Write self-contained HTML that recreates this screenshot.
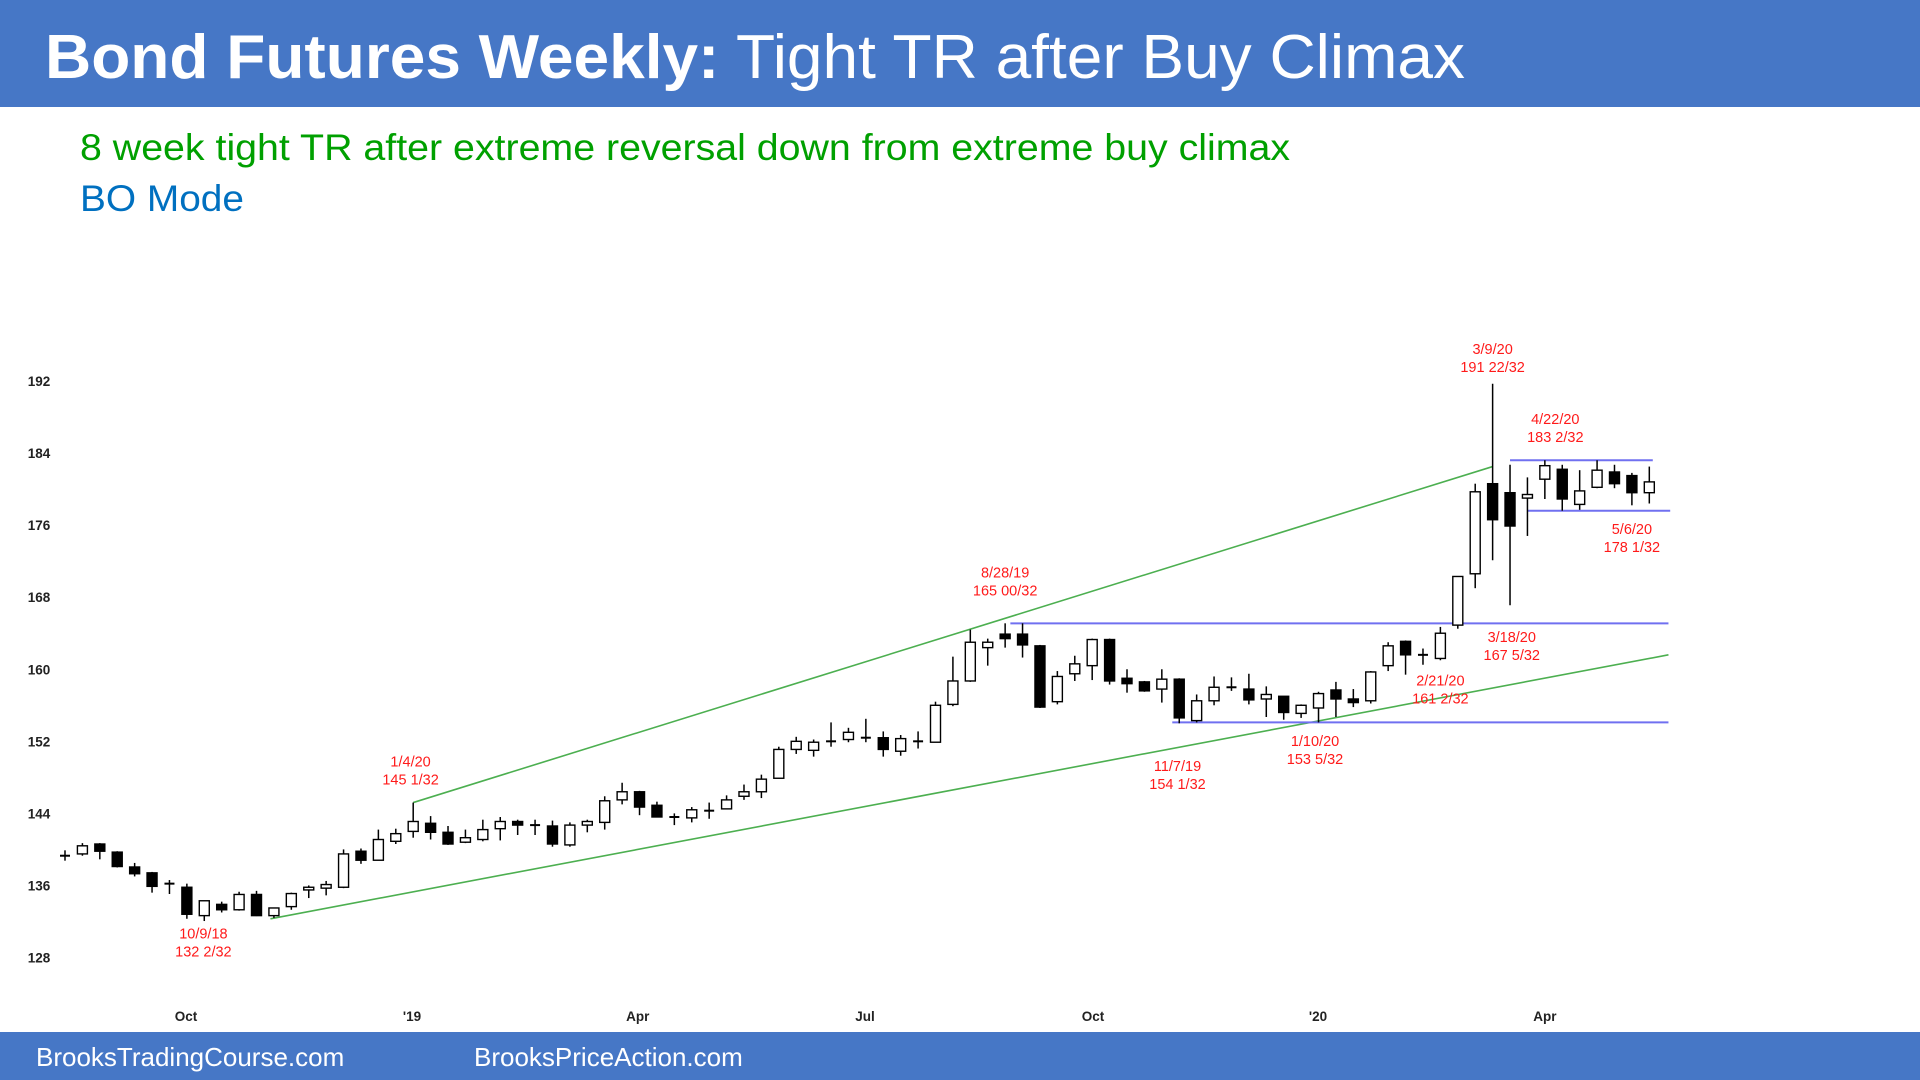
<!DOCTYPE html>
<html><head><meta charset="utf-8"><style>
html,body{margin:0;padding:0;background:#fff;}
svg{display:block;font-family:"Liberation Sans",Arial,sans-serif;}
</style></head><body>
<svg id="chart" width="1920" height="1080" viewBox="0 0 1920 1080">
<rect x="0" y="0" width="1920" height="107" fill="#4677C6"/>
<text x="45" y="78" font-size="62" fill="#fff" textLength="1420" lengthAdjust="spacingAndGlyphs"><tspan font-weight="bold">Bond Futures Weekly:</tspan> Tight TR after Buy Climax</text>
<text x="80" y="160" font-size="37" fill="#00A000" textLength="1210" lengthAdjust="spacingAndGlyphs">8 week tight TR after extreme reversal down from extreme buy climax</text>
<text x="80" y="211" font-size="37" fill="#0070C0" textLength="164" lengthAdjust="spacingAndGlyphs">BO Mode</text>
<g id="yaxis"></g><g id="xaxis"></g><g id="lines"></g><g id="candles"></g><g id="notes"></g>
<rect x="0" y="1032" width="1920" height="48" fill="#4677C6"/>
<text x="36" y="1066" font-size="26" fill="#fff">BrooksTradingCourse.com</text>
<text x="474" y="1066" font-size="26" fill="#fff">BrooksPriceAction.com</text>
</svg>
<script>
const opens  =[139.3,139.5,140.6,139.7,138.05,137.4,136.2,135.8,132.65,133.9,133.3,135.0,132.65,133.65,135.5,135.7,135.8,139.8,138.8,140.9,142.0,142.9,141.9,140.8,141.1,142.3,143.1,142.7,142.6,140.5,142.7,143.0,145.5,146.4,144.9,143.6,143.5,144.3,144.5,145.9,146.4,147.9,151.1,151.0,152.0,152.2,152.4,152.4,150.9,152.0,151.9,156.1,158.7,162.4,163.9,163.9,162.6,156.4,159.5,160.4,163.3,159.0,158.6,157.8,158.9,154.3,156.5,158.0,157.8,156.7,157.0,155.1,155.7,157.7,156.7,156.5,160.4,163.1,161.6,161.2,164.9,170.6,180.6,179.6,179.0,181.1,182.2,178.3,180.2,181.9,181.5,179.6];
const closes =[139.3,140.4,139.8,138.1,137.3,135.9,136.2,132.8,134.3,133.3,135.0,132.65,133.5,135.1,135.8,136.1,139.5,138.8,141.1,141.75,143.1,141.9,140.6,141.3,142.2,143.1,142.7,142.7,140.6,142.7,143.1,145.4,146.4,144.7,143.6,143.6,144.4,144.3,145.5,146.4,147.8,151.1,152.0,151.9,152.0,153.0,152.4,151.1,152.3,152.0,156.0,158.7,163.0,163.0,163.4,162.7,155.8,159.2,160.6,163.3,158.7,158.4,157.6,158.9,154.6,156.5,158.0,158.0,156.6,157.2,155.2,156.0,157.3,156.7,156.3,159.7,162.6,161.6,161.6,164.0,170.3,179.7,176.6,175.9,179.4,182.6,178.9,179.8,182.1,180.6,179.6,180.8];
const highs  =[139.9,140.7,140.7,139.8,138.5,137.5,136.6,136.2,132.9,134.2,135.3,135.4,132.8,135.2,136.0,136.5,140.0,140.1,142.2,142.3,145.2,143.7,142.6,142.2,143.3,143.6,143.3,143.3,143.2,143.0,143.3,145.9,147.4,146.5,145.3,144.0,144.7,145.2,146.0,147.2,148.3,151.4,152.5,152.2,154.1,153.5,154.5,153.1,152.7,153.1,156.4,161.4,164.4,163.4,165.1,165.1,162.7,159.8,161.5,163.4,163.4,160.0,158.7,160.0,159.0,157.2,159.2,159.1,159.5,158.1,157.0,156.1,157.5,158.6,157.8,159.8,163.0,163.2,162.3,164.7,165.6,180.6,191.7,182.7,181.3,183.2,182.7,182.1,183.2,182.7,181.8,182.5];
const lows   =[138.75,139.3,138.9,138.0,137.0,135.2,135.05,132.3,132.05,133.0,133.2,132.6,132.4,133.3,134.6,134.9,135.7,138.4,138.8,140.6,141.3,141.1,140.5,140.7,140.9,141.0,141.6,141.6,140.3,140.3,141.9,142.2,145.0,143.8,143.6,142.7,143.0,143.4,144.5,145.5,145.7,147.9,150.6,150.3,151.4,151.9,151.9,150.3,150.4,151.2,151.9,155.9,158.6,160.4,162.4,161.3,155.7,156.1,158.7,158.8,158.3,157.4,157.5,156.3,154.0,154.1,156.0,157.6,156.1,154.7,154.4,154.6,154.1,154.7,155.8,156.2,159.8,159.4,160.5,161.0,164.5,169.0,172.1,167.1,174.8,178.9,177.6,177.7,180.1,180.1,178.2,178.4];
const yTicks=[128,136,144,152,160,168,176,184,192];
const xTickLabels=["Oct","'19","Apr","Jul","Oct","'20","Apr"];
const xTickIndex=[6.95,19.93,32.9,45.95,59.05,71.97,85.0];
const noteTexts=[["3/9/20","191 22/32"],["4/22/20","183 2/32"],["5/6/20","178 1/32"],["8/28/19","165 00/32"],["3/18/20","167 5/32"],["2/21/20","161 2/32"],["1/10/20","153 5/32"],["11/7/19","154 1/32"],["1/4/20","145 1/32"],["10/9/18","132 2/32"]];
const noteIndex=[82,85.6,90.0,54.0,83.1,79.0,71.8,63.9,19.85,7.95];
const notePrice=[195.0,187.25,175.0,170.2,163.0,158.2,151.5,148.7,149.2,130.1];
const trendUpperIdx=[20,82], trendUpperPrice=[145.2,182.5];
const trendLowerIdx=[11.8,92.1], trendLowerPrice=[132.3,161.6];
const hLines=[[54.3,92.1,165.1],[63.6,92.1,154.1],[83.0,91.2,183.2],[84.0,92.2,177.6]];

const NS="http://www.w3.org/2000/svg";
function X(i){return 65+17.41*i;}
function Y(p){return 381+(192-p)*9.008;}
function mk(tag,attrs,parent){const e=document.createElementNS(NS,tag);for(const k in attrs)e.setAttribute(k,attrs[k]);parent.appendChild(e);return e;}
const gy=document.getElementById('yaxis'),gx=document.getElementById('xaxis'),gl=document.getElementById('lines'),gc=document.getElementById('candles'),gn=document.getElementById('notes');
yTicks.forEach(v=>{const t=mk('text',{x:39,y:Y(v)+5,'font-size':13.5,'font-weight':'bold','text-anchor':'middle',fill:'#222'},gy);t.textContent=v;

});
xTickLabels.forEach((l,k)=>{const t=mk('text',{x:X(xTickIndex[k]),y:1021,'font-size':13.5,'font-weight':'bold','text-anchor':'middle',fill:'#222'},gx);t.textContent=l;

});
const tu=mk('line',{x1:X(trendUpperIdx[0]),y1:Y(trendUpperPrice[0]),x2:X(trendUpperIdx[1]),y2:Y(trendUpperPrice[1]),stroke:'#4CAF50','stroke-width':1.6},gl);


const tl=mk('line',{x1:X(trendLowerIdx[0]),y1:Y(trendLowerPrice[0]),x2:X(trendLowerIdx[1]),y2:Y(trendLowerPrice[1]),stroke:'#4CAF50','stroke-width':1.6},gl);


hLines.forEach(h=>{const l=mk('line',{x1:X(h[0]),y1:Y(h[2]),x2:X(h[1]),y2:Y(h[2]),stroke:'#7070F0','stroke-width':2},gl);

});
opens.forEach((o,i)=>{const c=closes[i],x=X(i);const g=mk('g',{},gc);


mk('line',{x1:x,y1:Y(highs[i]),x2:x,y2:Y(lows[i]),stroke:'#000','stroke-width':1.5},g);
const top=Y(Math.max(o,c)),bot=Y(Math.min(o,c));
if(bot-top<2){mk('line',{x1:x-5,y1:(top+bot)/2,x2:x+5,y2:(top+bot)/2,stroke:'#000','stroke-width':2},g);}
else mk('rect',{x:x-5,y:top,width:10,height:bot-top,fill:c>=o?'#fff':'#000',stroke:'#000','stroke-width':1.4},g);});
noteTexts.forEach((n,k)=>{const x=X(noteIndex[k]),y=Y(notePrice[k]);
n.forEach((s,j)=>{const t=mk('text',{x:x,y:y+j*18,'font-size':14.5,'text-anchor':'middle',fill:'#FF1A1A'},gn);t.textContent=s;

});});
</script>
</body></html>
